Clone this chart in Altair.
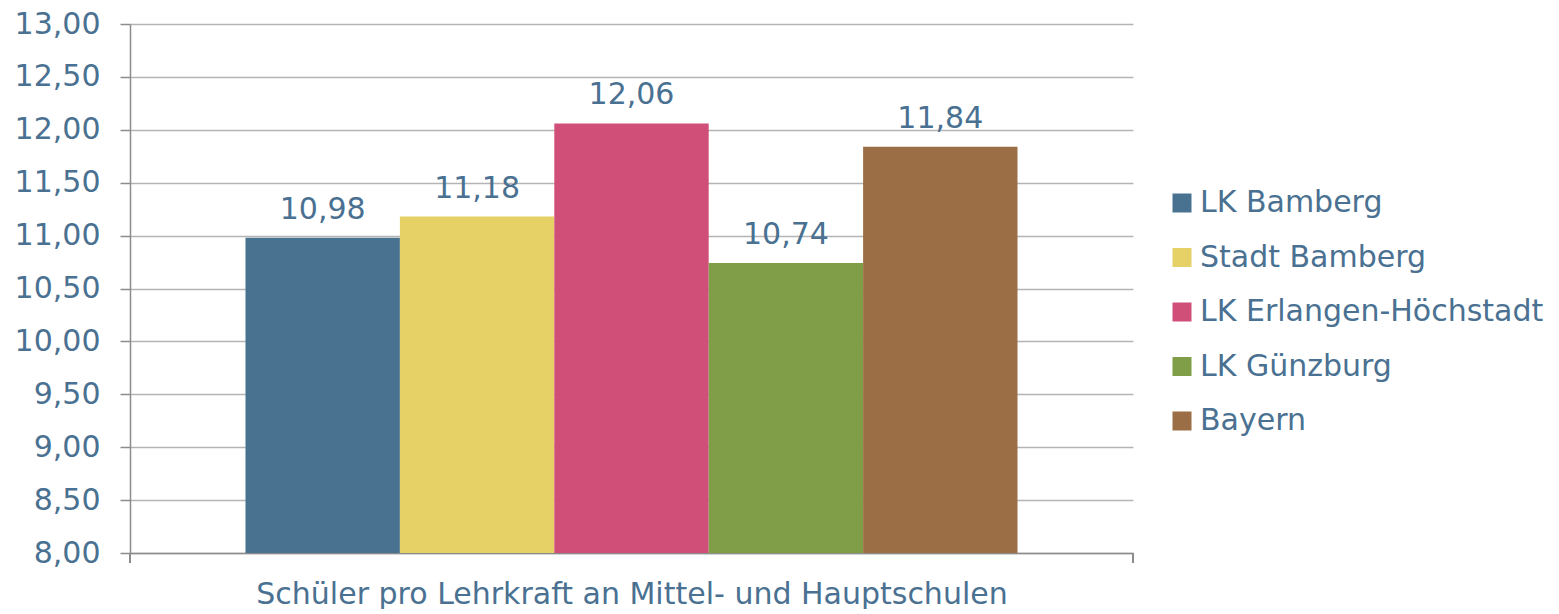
import altair as alt
import pandas as pd

series = ["LK Bamberg", "Stadt Bamberg", "LK Erlangen-Höchstadt", "LK Günzburg", "Bayern"]
values = [10.98, 11.18, 12.06, 10.74, 11.84]
colors = ["#48728f", "#e5d166", "#d04f79", "#809e47", "#9c6e45"]
category = "Schüler pro Lehrkraft an Mittel- und Hauptschulen"
y_ticks = [8.0, 8.5, 9.0, 9.5, 10.0, 10.5, 11.0, 11.5, 12.0, 12.5, 13.0]

df = pd.DataFrame({"series": series, "value": values})

FONT = "DejaVu Sans"
TXT = "#4a7191"
W, H = 1003, 529

x_enc = alt.X(
    "series:N",
    sort=series,
    scale=alt.Scale(paddingInner=0, paddingOuter=0.748),
    axis=alt.Axis(
        labels=False, ticks=False, title=category, titleFontSize=30,
        titleColor=TXT, titleFont=FONT, titleFontWeight="normal",
        titlePadding=26, domainColor="#8c8c8c", domainWidth=1.5,
    ),
)
y_enc = alt.Y(
    "value:Q",
    scale=alt.Scale(domain=[8, 13], nice=False, zero=False, clamp=True),
    axis=alt.Axis(
        values=y_ticks, title=None, labelExpr="replace(format(datum.value, '.2f'), '.', ',')",
        labelFontSize=30, labelColor=TXT, labelFont=FONT, labelPadding=20,
        tickSize=10, tickColor="#8c8c8c", tickWidth=1.5, domainColor="#8c8c8c", domainWidth=1.5,
        grid=True, gridColor="#b4b4b4", gridWidth=1.5,
    ),
)

bars = alt.Chart(df).mark_bar(size=154.4).encode(
    x=x_enc,
    y=y_enc,
    y2=alt.datum(8),
    color=alt.Color(
        "series:N", sort=series,
        scale=alt.Scale(domain=series, range=colors),
        legend=alt.Legend(
            title=None, orient="none", legendX=1037, legendY=164,
            labelFontSize=30, labelColor=TXT, labelFont=FONT, labelLimit=500,
            symbolType="square", symbolSize=361, symbolStrokeWidth=0,
            rowPadding=24.5, labelOffset=3, padding=0,
        ),
    ),
)

labels = alt.Chart(df).transform_calculate(
    lbl="replace(format(datum.value, '.2f'), '.', ',')"
).mark_text(
    baseline="bottom", dy=-13, fontSize=30, font=FONT, color=TXT
).encode(x=alt.X("series:N", sort=series), y="value:Q", text="lbl:N")

tick_left = alt.Chart(df).mark_rule(color="#8c8c8c", strokeWidth=1.5).encode(
    x=alt.value(0), y=alt.value(H), y2=alt.value(H + 10)
)
tick_right = alt.Chart(df).mark_rule(color="#8c8c8c", strokeWidth=1.5).encode(
    x=alt.value(W), y=alt.value(H), y2=alt.value(H + 10)
)

chart = alt.layer(bars, labels, tick_left, tick_right).properties(
    width=W, height=H, padding={"left": 6, "top": 1, "right": 0, "bottom": 0}
).configure_view(stroke=None).configure_axis(labelFontWeight="normal")

chart.save("out.html", embed_options={"renderer": "svg", "actions": False})
